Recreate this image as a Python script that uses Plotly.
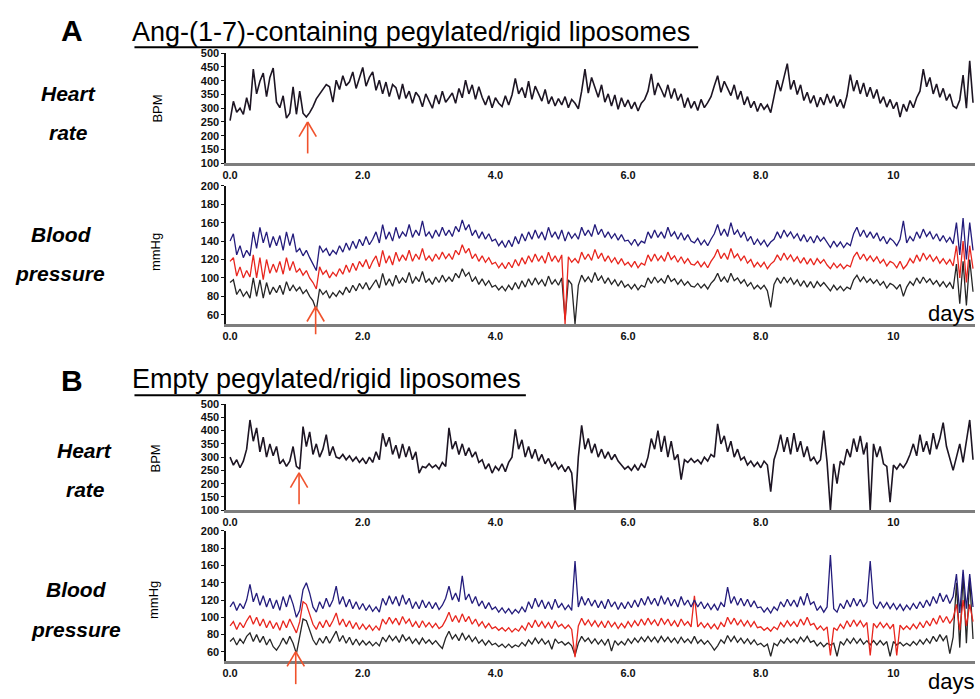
import plotly.graph_objects as go

STEP_DAYS = 0.05

hr_a = [
    255, 325, 285, 300, 278, 338, 292, 442, 352, 398, 428, 342, 412, 446, 322, 302, 345, 264, 282, 378,
    278, 362, 282, 268, 284, 306, 334, 352, 372, 386, 378, 322, 402, 368, 418, 382, 396, 432, 372, 408,
    448, 380, 412, 432, 365, 402, 352, 395, 342, 386, 375, 332, 388, 336, 362, 318, 358, 342, 305, 352,
    328, 300, 348, 315, 362, 322, 338, 355, 318, 372, 338, 402, 352, 385, 332, 378, 340, 312, 345, 302,
    338, 318, 306, 345, 312, 348, 408, 352, 375, 338, 398, 332, 380, 352, 326, 368, 316, 342, 308, 335,
    312, 342, 302, 332, 318, 298, 362, 442, 355, 412, 372, 340, 385, 322, 352, 308, 348, 296, 338, 305,
    330, 298, 322, 290, 318, 332, 362, 425, 348, 392, 368, 340, 385, 335, 372, 328, 352, 302, 338, 300,
    325, 292, 332, 302, 320, 342, 382, 418, 358, 398, 372, 346, 385, 332, 362, 312, 342, 302, 325, 288,
    318, 296, 312, 284, 342, 402, 362, 412, 462, 368, 402, 350, 385, 328, 358, 318, 346, 304, 340, 312,
    352, 318, 345, 306, 332, 300, 345, 422, 362, 402, 352, 392, 342, 376, 335, 368, 318, 342, 304, 332,
    298, 322, 268, 315, 288, 328, 302, 338, 362, 442, 378, 412, 352, 388, 340, 372, 328, 352, 308, 300,
    330, 420, 300, 472, 320,
]

sys_a = [
    140, 148, 125, 135, 122, 130, 124, 150, 132, 155, 138, 150, 133, 145, 135, 146, 130, 150, 135, 148,
    128, 132, 124, 130, 122, 115, 108, 135, 128, 132, 124, 130, 126, 135, 128, 138, 130, 140, 132, 142,
    135, 145, 136, 142, 150, 138, 158, 142, 150, 140, 155, 143, 150, 145, 158, 144, 152, 146, 162, 145,
    150, 143, 152, 145, 155, 146, 152, 145, 156, 150, 163, 152, 158, 146, 152, 143, 150, 142, 148, 140,
    142, 135, 140, 133, 141, 134, 145, 137, 148, 140, 150, 142, 152, 143, 150, 141, 155, 144, 150, 142,
    152, 140, 150, 143, 148, 142, 155, 146, 152, 145, 158, 147, 153, 144, 150, 143, 148, 141, 147, 140,
    141, 136, 142, 135, 140, 138, 150, 143, 152, 144, 150, 143, 155, 145, 150, 142, 149, 141, 147, 140,
    138, 143, 136, 141, 135, 142, 148, 158, 146, 153, 145, 160, 147, 152, 144, 150, 140, 145, 136, 142,
    136, 141, 134, 139, 142, 150, 143, 152, 145, 150, 143, 148, 140, 147, 139, 145, 138, 146, 140, 144,
    138, 133, 140, 134, 139, 133, 138, 135, 148, 155, 145, 152, 144, 150, 143, 149, 140, 145, 137, 143,
    140, 135, 142, 162, 138, 145, 140, 150, 143, 153, 145, 150, 142, 148, 140, 146, 139, 144, 137, 160,
    125, 165, 120, 160, 130,
]

map_a = [
    118, 122, 102, 112, 100, 108, 101, 125, 100, 122, 98, 120, 105, 115, 106, 118, 104, 122, 108, 118,
    106, 110, 103, 108, 100, 95, 88, 112, 104, 108, 100, 106, 102, 110, 104, 114, 106, 116, 108, 118,
    112, 120, 110, 118, 124, 112, 130, 116, 124, 114, 128, 118, 125, 119, 130, 118, 126, 120, 132, 119,
    124, 118, 126, 120, 128, 121, 126, 120, 130, 125, 136, 127, 132, 121, 126, 118, 124, 117, 122, 115,
    117, 111, 116, 110, 117, 111, 120, 113, 122, 115, 124, 117, 126, 118, 124, 116, 128, 118, 124, 117,
    125, 50, 123, 117, 121, 116, 128, 120, 126, 119, 131, 121, 127, 118, 124, 117, 122, 115, 121, 114,
    117, 112, 118, 111, 116, 114, 125, 118, 126, 119, 124, 118, 128, 120, 124, 117, 123, 116, 121, 115,
    114, 118, 112, 117, 111, 118, 123, 131, 121, 127, 120, 132, 122, 126, 119, 124, 116, 120, 112, 117,
    112, 117, 110, 115, 118, 125, 119, 127, 120, 125, 118, 123, 116, 122, 115, 121, 114, 121, 116, 120,
    114, 110, 116, 111, 115, 110, 114, 112, 123, 128, 120, 126, 119, 124, 118, 123, 116, 120, 113, 118,
    116, 111, 118, 110, 114, 121, 116, 125, 118, 127, 120, 125, 118, 123, 116, 121, 115, 120, 113, 135,
    100, 140, 95, 135, 110,
]

dia_a = [
    95, 98, 82, 88, 80, 85, 78, 100, 80, 98, 78, 95, 82, 90, 84, 92, 82, 96, 86, 92,
    86, 90, 83, 87, 80, 75, 65, 88, 82, 86, 78, 84, 80, 86, 82, 90, 84, 92, 86, 94,
    88, 95, 87, 93, 98, 89, 105, 92, 99, 91, 103, 94, 100, 95, 106, 94, 101, 96, 107, 95,
    99, 93, 101, 95, 103, 96, 101, 96, 105, 100, 110, 102, 106, 96, 101, 93, 99, 92, 97, 90,
    92, 87, 91, 86, 92, 87, 95, 88, 97, 90, 99, 92, 100, 93, 98, 91, 102, 93, 98, 92,
    100, 55, 98, 93, 50, 92, 103, 96, 101, 95, 106, 97, 102, 94, 100, 93, 98, 91, 97, 90,
    93, 88, 93, 87, 92, 90, 100, 94, 101, 95, 99, 94, 103, 96, 99, 93, 98, 92, 96, 91,
    90, 94, 89, 93, 88, 94, 98, 105, 96, 101, 95, 105, 97, 100, 94, 98, 91, 95, 88, 92,
    88, 92, 86, 68, 93, 100, 94, 101, 95, 100, 93, 98, 91, 97, 90, 96, 89, 96, 91, 95,
    90, 86, 92, 87, 91, 86, 90, 88, 98, 103, 96, 101, 95, 99, 94, 98, 92, 96, 89, 94,
    92, 88, 93, 80, 90, 96, 92, 100, 94, 101, 95, 99, 93, 97, 91, 96, 90, 95, 88, 115,
    72, 118, 70, 120, 85,
]

hr_b = [
    300, 270, 290, 260, 285, 330, 440, 360, 410, 320, 375, 300, 350, 305, 340, 275, 290, 265, 285, 340,
    265, 255, 415, 340, 395, 310, 350, 300, 330, 385, 305, 340, 300, 295, 310, 290, 305, 285, 300, 280,
    295, 275, 300, 280, 320, 290, 390, 340, 375, 310, 345, 295, 350, 300, 340, 290, 320, 240, 265, 260,
    275, 260, 270, 255, 280, 265, 410, 330, 360, 310, 350, 305, 335, 300, 320, 280, 290, 255, 275, 240,
    265, 250, 275, 245, 280, 300, 405, 330, 365, 300, 340, 295, 330, 285, 310, 275, 295, 265, 280, 255,
    270, 245, 265, 240, 100, 300, 420, 330, 370, 315, 350, 300, 330, 295, 320, 290, 310, 285, 270, 255,
    265, 250, 270, 250, 275, 260, 300, 370, 330, 400, 320, 380, 300, 360, 290, 310, 215, 290, 280, 295,
    280, 290, 275, 300, 285, 310, 300, 425, 350, 380, 320, 360, 300, 330, 290, 300, 270, 285, 265, 280,
    260, 285, 270, 170, 290, 330, 385, 320, 375, 310, 390, 320, 360, 300, 340, 285, 300, 275, 290, 400,
    280, 100, 275, 200, 285, 270, 330, 300, 370, 320, 380, 310, 355, 100, 350, 300, 340, 275, 265, 130,
    270, 255, 275, 260, 280, 310, 350, 305, 385, 320, 360, 310, 390, 330, 370, 430, 340, 290, 250, 300,
    350, 280, 360, 440, 290,
]

sys_b = [
    112, 118, 108, 116, 110, 120, 138, 118, 128, 114, 125, 112, 122, 110, 120, 108, 124, 112, 126, 115,
    100, 108, 132, 140, 128, 112, 106, 118, 110, 122, 112, 120, 136, 115, 124, 112, 121, 110, 118, 109,
    116, 108, 114, 107, 112, 106, 122, 114, 125, 115, 124, 113, 126, 115, 122, 110, 118, 110, 120, 111,
    118, 110, 117, 109, 114, 122, 136, 120, 128, 118, 148, 120, 127, 116, 124, 113, 119, 110, 117, 109,
    112, 106, 111, 105, 110, 104, 109, 105, 112, 106, 118, 110, 122, 112, 120, 110, 118, 109, 121, 111,
    116, 109, 114, 108, 165, 112, 124, 114, 122, 113, 120, 111, 119, 110, 121, 112, 118, 109, 117, 110,
    118, 111, 120, 112, 122, 114, 124, 115, 122, 113, 125, 115, 123, 113, 121, 112, 124, 114, 120, 112,
    120, 112, 118, 110, 116, 109, 115, 108, 117, 112, 135, 116, 124, 114, 122, 113, 121, 112, 119, 111,
    112, 106, 111, 105, 112, 108, 118, 112, 121, 113, 120, 112, 124, 114, 128, 115, 118, 108, 113, 106,
    112, 172, 110, 106, 116, 110, 120, 112, 122, 113, 121, 112, 118, 165, 116, 110, 118, 111, 117, 110,
    116, 109, 115, 108, 114, 109, 116, 110, 118, 111, 120, 113, 124, 116, 128, 118, 126, 116, 124, 150,
    105, 155, 110, 150, 112,
]

map_b = [
    90, 95, 86, 94, 88, 96, 102, 92, 100, 90, 98, 88, 96, 87, 94, 85, 96, 88, 98, 90,
    82, 95, 118, 115, 104, 92, 86, 95, 88, 97, 89, 96, 105, 91, 98, 89, 96, 87, 94, 86,
    92, 86, 91, 85, 90, 85, 98, 92, 100, 93, 99, 91, 101, 93, 98, 89, 95, 88, 96, 89,
    94, 88, 93, 87, 90, 97, 106, 95, 102, 94, 104, 95, 101, 92, 98, 90, 95, 88, 93, 87,
    89, 85, 88, 84, 88, 83, 87, 84, 90, 85, 94, 88, 97, 89, 95, 88, 94, 87, 96, 89,
    92, 87, 91, 86, 54, 90, 99, 91, 97, 90, 96, 89, 95, 88, 96, 89, 94, 87, 93, 88,
    95, 89, 96, 90, 98, 91, 99, 92, 97, 90, 99, 92, 98, 90, 96, 89, 98, 91, 95, 89,
    125, 89, 94, 88, 93, 87, 92, 86, 94, 89, 100, 92, 99, 91, 97, 90, 96, 89, 95, 88,
    89, 85, 88, 84, 89, 86, 94, 89, 96, 90, 95, 89, 98, 91, 100, 91, 93, 86, 90, 85,
    89, 56, 88, 85, 92, 87, 96, 89, 97, 90, 96, 89, 94, 56, 93, 88, 94, 88, 93, 87,
    92, 56, 91, 86, 90, 86, 92, 87, 94, 88, 96, 90, 99, 92, 102, 94, 101, 93, 99, 115,
    85, 120, 90, 115, 95,
]

dia_b = [
    72, 76, 68, 75, 70, 78, 82, 72, 80, 71, 78, 68, 75, 66, 62, 68, 76, 69, 78, 70,
    58, 80, 98, 96, 86, 74, 68, 76, 70, 78, 70, 77, 84, 72, 79, 70, 77, 68, 75, 68,
    73, 68, 72, 67, 71, 67, 77, 72, 79, 73, 78, 71, 80, 73, 77, 70, 75, 69, 76, 70,
    74, 69, 73, 68, 64, 76, 84, 75, 80, 73, 82, 74, 79, 72, 77, 70, 74, 68, 73, 68,
    70, 66, 69, 65, 69, 65, 68, 66, 71, 67, 74, 69, 76, 70, 75, 69, 73, 63, 75, 70,
    72, 68, 71, 67, 56, 70, 78, 72, 76, 70, 75, 69, 74, 68, 75, 61, 73, 68, 72, 68,
    75, 70, 76, 71, 77, 72, 78, 72, 77, 71, 78, 72, 77, 71, 76, 70, 77, 71, 75, 70,
    78, 70, 74, 69, 73, 68, 62, 67, 74, 70, 79, 72, 78, 71, 76, 70, 75, 69, 74, 68,
    70, 66, 69, 55, 70, 67, 74, 70, 76, 71, 75, 70, 77, 72, 78, 71, 73, 67, 71, 66,
    70, 68, 70, 55, 72, 68, 75, 70, 76, 70, 75, 69, 73, 68, 73, 68, 73, 68, 72, 55,
    72, 68, 71, 67, 70, 67, 72, 68, 74, 69, 75, 70, 78, 72, 80, 73, 79, 58, 77, 140,
    65, 150, 70, 145, 75,
]

# injection (arrow) days
inject_day = {"hr_a": 1.17, "bp_a": 1.29, "hr_b": 1.04, "bp_b": 0.99}

x_tick_vals = [0, 2, 4, 6, 8, 10]
x_tick_text = ["0.0", "2.0", "4.0", "6.0", "8.0", "10"]
hr_ticks = [100, 150, 200, 250, 300, 350, 400, 450, 500]
bp_ticks = [60, 80, 100, 120, 140, 160, 180, 200]


def days(series):
    return [round(i * STEP_DAYS, 2) for i in range(len(series))]


# ---------------- layout helpers ----------------
W, H = 980, 699
FONT = "Liberation Sans, Arial, sans-serif"


def px(x):
    return x / W


def py(y):
    return 1 - y / H


X_DOM = [px(223), px(975)]
X_RANGE = [-0.06, 11.23]

HR_COLOR = "#1d1523"
SYS_COLOR = "#241c7c"
MAP_COLOR = "#e8261e"
DIA_COLOR = "#262626"
ARROW_COLOR = "#f0522c"

fig = go.Figure()

panels = [
    ("x", "y", [(hr_a, HR_COLOR, 1.6)]),
    ("x2", "y2", [(dia_a, DIA_COLOR, 1.3), (map_a, MAP_COLOR, 1.3), (sys_a, SYS_COLOR, 1.3)]),
    ("x3", "y3", [(hr_b, HR_COLOR, 1.6)]),
    ("x4", "y4", [(dia_b, DIA_COLOR, 1.3), (map_b, MAP_COLOR, 1.3), (sys_b, SYS_COLOR, 1.3)]),
]
for xa, ya, series in panels:
    for s, c, w in series:
        fig.add_trace(go.Scatter(x=days(s), y=s, mode="lines", xaxis=xa, yaxis=ya,
                                 line=dict(color=c, width=w), showlegend=False,
                                 hoverinfo="skip"))


def xaxis(anchor):
    return dict(domain=X_DOM, range=X_RANGE, anchor=anchor, showgrid=False, zeroline=False,
                showline=True, linecolor="#7d7d7d", linewidth=2.5, ticks="",
                tickvals=x_tick_vals, ticktext=x_tick_text,
                tickfont=dict(family=FONT, size=11, color="#111", weight="bold"))


def yaxis(anchor, dom, rng, ticks):
    return dict(domain=dom, range=rng, anchor=anchor, showgrid=False, zeroline=False,
                showline=True, linecolor="#111", linewidth=1.5, ticks="outside",
                ticklen=3, tickwidth=1, tickcolor="#111", tickvals=ticks,
                tickfont=dict(family=FONT, size=11, color="#111", weight="bold"))


fig.update_layout(
    width=W, height=H, margin=dict(l=0, r=0, t=0, b=0),
    paper_bgcolor="white", plot_bgcolor="white",
    xaxis=xaxis("y"), xaxis2=xaxis("y2"), xaxis3=xaxis("y3"), xaxis4=xaxis("y4"),
    yaxis=yaxis("x", [py(160), py(48)], [100, 500], hr_ticks),
    yaxis2=yaxis("x2", [py(323.5), py(183)], [50, 200], bp_ticks),
    yaxis3=yaxis("x3", [py(513), py(405)], [100, 500], hr_ticks),
    yaxis4=yaxis("x4", [py(666), py(534)], [50, 200], bp_ticks),
)

ann = []


def text(x, y, s, size, bold=False, italic=False, xanchor="center", angle=0):
    t = s
    if bold:
        t = "<b>" + t + "</b>"
    if italic:
        t = "<i>" + t + "</i>"
    ann.append(dict(x=px(x), y=py(y), xref="paper", yref="paper", text=t, showarrow=False,
                    xanchor=xanchor, yanchor="middle", textangle=angle,
                    font=dict(family=FONT, size=size, color="#000")))


# panel letters and titles
text(68, 25, "A", 30, bold=True)
text(127, 26, "Ang-(1-7)-containing pegylated/rigid liposomes", 27, xanchor="left")
text(68, 381, "B", 30, bold=True)
text(127, 380, "Empty pegylated/rigid liposomes", 27, xanchor="left")

# row labels
text(65, 89, "Heart", 21, bold=True, italic=True)
text(65, 129, "rate", 21, bold=True, italic=True)
text(58, 233, "Blood", 21, bold=True, italic=True)
text(56, 272, "pressure", 21, bold=True, italic=True)
text(81, 452, "Heart", 21, bold=True, italic=True)
text(82, 492, "rate", 21, bold=True, italic=True)
text(73, 594, "Blood", 21, bold=True, italic=True)
text(72, 634, "pressure", 21, bold=True, italic=True)

# axis titles
text(154, 104, "BPM", 13, angle=-90)
text(152, 250, "mmHg", 13, angle=-90)
text(152, 460, "BPM", 13, angle=-90)
text(150, 604, "mmHg", 13, angle=-90)

# days
text(951, 313, "days", 22)
text(951, 687, "days", 22)

fig.update_layout(annotations=ann)

shapes = [
    dict(type="line", xref="paper", yref="paper", x0=px(131), x1=px(697), y0=py(42), y1=py(42),
         line=dict(color="#000", width=2)),
    dict(type="line", xref="paper", yref="paper", x0=px(131), x1=px(524), y0=py(396), y1=py(396),
         line=dict(color="#000", width=2)),
]


def arrow(xref, day, y_tip, y_tail, dx_days=0.13, head_px=15):
    s = [dict(type="line", xref=xref, yref="paper", x0=day, x1=day, y0=py(y_tail), y1=py(y_tip),
              line=dict(color=ARROW_COLOR, width=1.6))]
    for sgn in (-1, 1):
        s.append(dict(type="line", xref=xref, yref="paper", x0=day, x1=day + sgn * dx_days,
                      y0=py(y_tip), y1=py(y_tip + head_px), line=dict(color=ARROW_COLOR, width=1.6)))
    return s


shapes += arrow("x", inject_day["hr_a"], 118, 150)
shapes += arrow("x2", inject_day["bp_a"], 306, 334)
shapes += arrow("x3", inject_day["hr_b"], 475, 507)
shapes += arrow("x4", inject_day["bp_b"], 657, 690)

fig.update_layout(shapes=shapes)

fig.write_html("out.html", config={"displayModeBar": False},
               post_script="document.body.style.margin='0px';")
